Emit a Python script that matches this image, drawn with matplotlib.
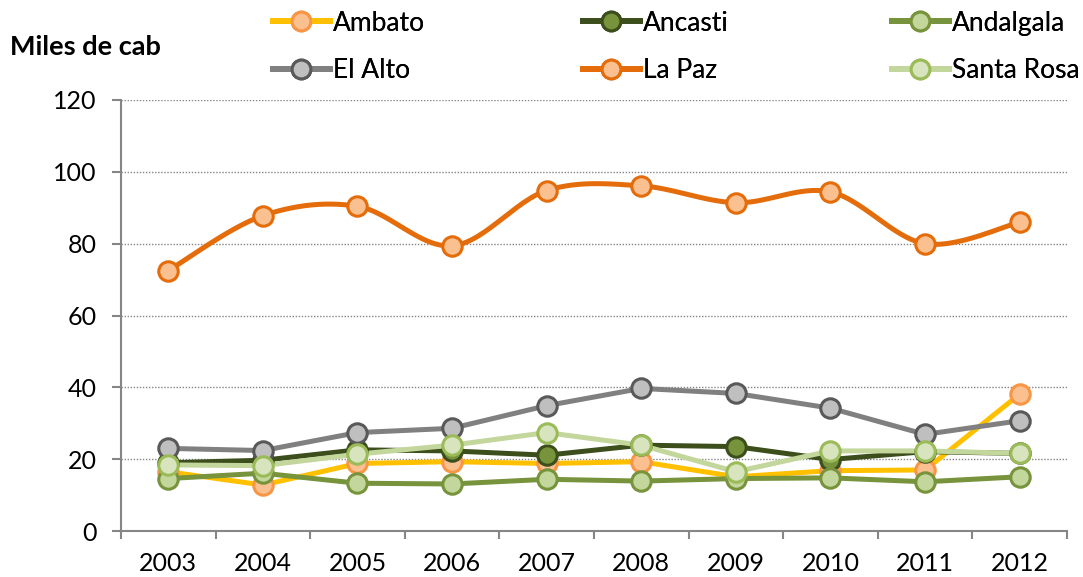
import numpy as np
import matplotlib
matplotlib.use("Agg")
import matplotlib.pyplot as plt
from matplotlib.lines import Line2D

plt.rcParams['font.family'] = ['Lato', 'DejaVu Sans']

years = ["2003", "2004", "2005", "2006", "2007", "2008", "2009", "2010", "2011", "2012"]
ambato = [16.5, 12.8, 18.8, 19.3, 18.8, 19.3, 15.1, 16.8, 17.0, 38.1]
ancasti = [19.0, 19.7, 22.6, 22.3, 21.1, 23.9, 23.5, 19.9, 22.1, 21.6]
andalgala = [14.6, 16.1, 13.3, 13.1, 14.4, 13.9, 14.6, 14.8, 13.7, 15.1]
el_alto = [23.0, 22.4, 27.4, 28.6, 34.9, 39.7, 38.3, 34.2, 26.9, 30.7]
la_paz = [72.5, 87.8, 90.4, 79.4, 94.8, 96.1, 91.4, 94.4, 80.0, 86.0]
santa_rosa = [18.4, 18.2, 21.4, 23.9, 27.4, 23.9, 16.5, 22.3, 22.3, 21.6]

series = [
    ("Ambato", ambato, "#FFC000", "#FAC090", "#F79646", False),
    ("Ancasti", ancasti, "#3B4E1C", "#77933C", "#3B4E1C", False),
    ("Andalgala", andalgala, "#77933C", "#C3D69B", "#77933C", False),
    ("El Alto", el_alto, "#808080", "#BFBFBF", "#595959", False),
    ("La Paz", la_paz, "#E46C0A", "#FAC090", "#E46C0A", True),
    ("Santa Rosa", santa_rosa, "#C3D69B", "#D7E4BD", "#9BBB59", False),
]


def smooth(x, y, n=30):
    x = np.asarray(x, float)
    y = np.asarray(y, float)
    px = np.concatenate([[x[0]], x, [x[-1]]])
    py = np.concatenate([[y[0]], y, [y[-1]]])
    xs, ys = [], []
    t = np.linspace(0, 1, n)
    for i in range(1, len(px) - 2):
        p0 = np.array([px[i], py[i]])
        p3 = np.array([px[i + 1], py[i + 1]])
        p1 = p0 + (np.array([px[i + 1], py[i + 1]]) - np.array([px[i - 1], py[i - 1]])) / 6
        p2 = p3 - (np.array([px[i + 2], py[i + 2]]) - np.array([px[i], py[i]])) / 6
        b = ((1 - t) ** 3)[:, None] * p0 + (3 * (1 - t) ** 2 * t)[:, None] * p1 + \
            (3 * (1 - t) * t ** 2)[:, None] * p2 + (t ** 3)[:, None] * p3
        xs.extend(b[:, 0])
        ys.extend(b[:, 1])
    return np.array(xs), np.array(ys)


fig = plt.figure(figsize=(10.83, 5.77), dpi=100)
ax = fig.add_axes([0.1117, 0.0797, 0.9852 - 0.1117, 0.8267 - 0.0797])

xpos = np.arange(len(years))
handles = []
for name, vals, lc, mf, me, sm in series:
    if sm:
        sx, sy = smooth(xpos, vals)
        ax.plot(sx, sy, color=lc, lw=3.6, solid_capstyle='round', zorder=3)
    else:
        ax.plot(xpos, vals, color=lc, lw=3.6, solid_capstyle='round', zorder=3)
    ax.plot(xpos, vals, ls='none', marker='o', ms=14, mfc=mf, mec=me, mew=2.2, zorder=4)
    handles.append(Line2D([], [], color=lc, lw=4.2, marker='o', ms=13.5, mfc=mf, mec=me, mew=2.2))

ax.set_xlim(-0.5, len(years) - 0.5)
ax.set_ylim(0, 120)
ax.set_yticks(np.arange(0, 121, 20))
ax.set_xticks(xpos)
ax.set_xticklabels(years)
ax.set_xticks(np.arange(-0.5, len(years), 1), minor=True)
ax.tick_params(axis='x', which='major', length=0, pad=15, labelsize=18, colors='black')
ax.tick_params(axis='x', which='minor', length=6, width=1.5, color='#868686')
ax.tick_params(axis='y', length=6.5, width=1.5, color='#868686', pad=11, labelsize=18)
ax.grid(axis='y', color='#868686', ls=(0, (1, 1.2)), lw=1)
ax.set_axisbelow(True)
for s in ['top', 'right']:
    ax.spines[s].set_visible(False)
for s in ['left', 'bottom']:
    ax.spines[s].set_color('#868686')
    ax.spines[s].set_linewidth(1.5)

# legend: three equally spaced columns
col_x = [0.2521, 0.5383, 0.8236]
for c in range(3):
    idx = [c, c + 3]
    leg = fig.legend([handles[i] for i in idx], [series[i][0] for i in idx], ncol=1,
                     loc='upper left', bbox_to_anchor=(col_x[c], 0.9818), frameon=False,
                     fontsize=19, handlelength=2.15, handletextpad=0.12,
                     labelspacing=0.87, borderpad=0, borderaxespad=0)
    fig.add_artist(leg)

fig.text(0.009, 0.905, "Miles de cab", fontsize=19.5, fontweight='bold', ha='left', va='baseline')

fig.savefig("out.png", dpi=100)
